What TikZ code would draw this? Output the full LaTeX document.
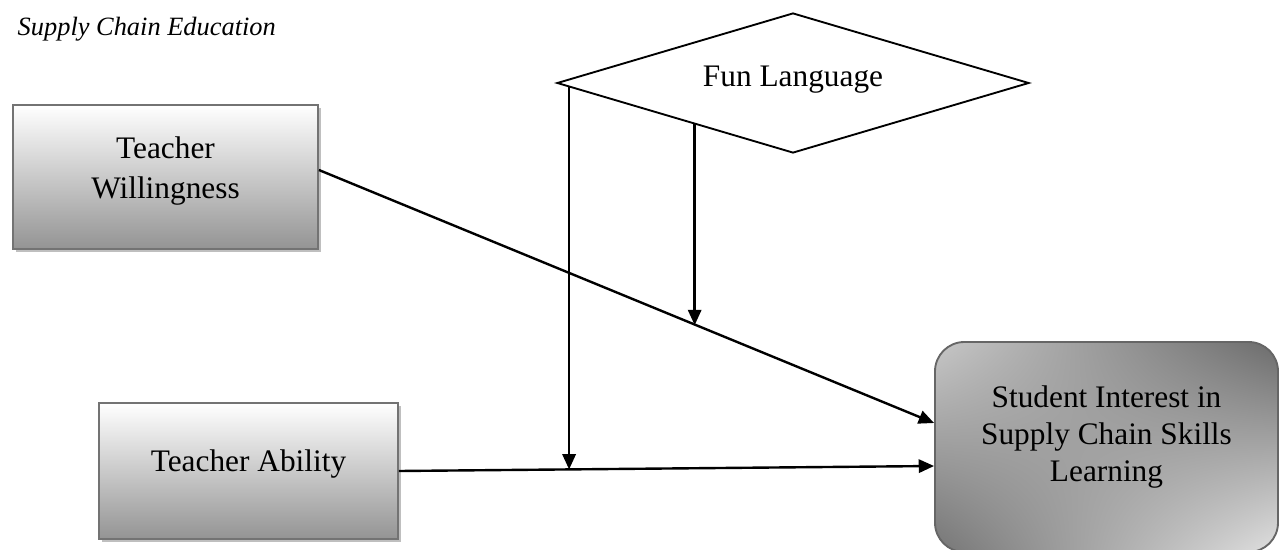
\documentclass[tikz,border=0pt]{standalone}
\usepackage{fontspec}
\setmainfont{Liberation Serif}
\usetikzlibrary{arrows.meta,positioning,calc,shapes.geometric,shadows,shadings}

\begin{document}
\begin{tikzpicture}[
  x=0.75pt, y=-0.75pt,
  factor/.style={draw=black!55, line width=1.4pt, top color=white, bottom color=black!42, align=center, font=\fontsize{23.5}{30}\selectfont,
    drop shadow={shadow xshift=2.5pt, shadow yshift=-2.5pt, fill=black!25, opacity=1}},
  outcome/.style={draw=black!60, line width=1.4pt, rounded corners=22pt, upper left=black!22, upper right=black!58, lower left=black!54, lower right=black!12,
    align=center, font=\fontsize{23.5}{27.5}\selectfont},
  moderator/.style={diamond, draw, line width=1.4pt, aspect=3.4, inner sep=0pt, minimum width=354pt, minimum height=105pt, font=\fontsize{23.5}{28}\selectfont},
  flow/.style={-{Triangle[length=11.5pt,width=10pt]}, line width=1.8pt}
]
\useasboundingbox (0,0) rectangle (1279,550);

\node[font=\itshape\fontsize{19.8}{24}\selectfont, anchor=base west] (title) at (13,35) {Supply Chain Education};

\node[factor, text depth=14pt, minimum width=228.75pt, minimum height=108pt] (tw) at (165.5,177) {Teacher\\Willingness};
\node[factor, text depth=15pt, minimum width=224.25pt, minimum height=102pt] (ta) at (248.5,471) {Teacher Ability};
\node[outcome, text depth=20pt, minimum width=257.25pt, minimum height=157.5pt] (si) at (1106.5,447) {Student Interest in\\Supply Chain Skills\\Learning};
\node[moderator, text depth=10pt] (fl) at (793,83) {Fun Language};

\draw[flow] ([yshift=5.25pt]tw.east) -- coordinate[pos=0.613] (tw-hit) ([yshift=18pt]si.west);
\draw[flow] (ta.east) -- coordinate[pos=0.319] (ta-hit) ([yshift=-14.25pt]si.west);

% moderating paths
\coordinate (fl-a) at ($(fl.west)!0.055!(fl.south)$);
\coordinate (fl-b) at ($(fl.west)!0.585!(fl.south)$);
\draw[flow] (fl-a) -- (fl-a |- ta-hit);
\draw[flow] (fl-b) -- (fl-b |- tw-hit);

\end{tikzpicture}
\end{document}
